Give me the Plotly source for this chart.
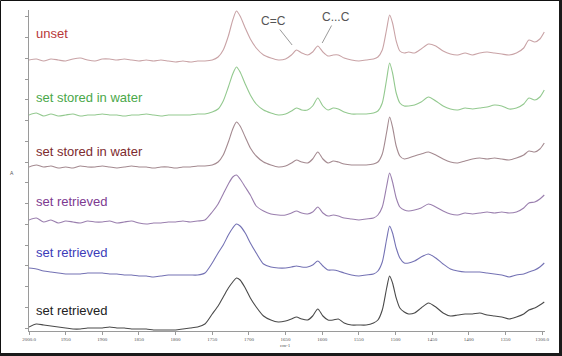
import plotly.graph_objects as go

# ---------------- data ----------------
wavenumber = [2000, 1990, 1980, 1970, 1960, 1950, 1940, 1930, 1920, 1910,
              1900, 1890, 1880, 1870, 1860, 1850, 1840, 1830, 1820, 1810,
              1800, 1790, 1780, 1770, 1760, 1750, 1742, 1735, 1728, 1722,
              1717, 1712, 1705, 1698, 1690, 1680, 1670, 1660, 1650, 1642,
              1635, 1628, 1620, 1613, 1606, 1599, 1592, 1585, 1578, 1570,
              1560, 1550, 1540, 1530, 1524, 1518, 1512, 1508, 1504, 1499,
              1494, 1488, 1482, 1474, 1465, 1455, 1445, 1435, 1425, 1415,
              1405, 1395, 1385, 1375, 1365, 1355, 1345, 1335, 1325, 1318,
              1310, 1303, 1297]

unset = [0, 1, -1, 1, 0, -1, 1, 2, 0, -1,
         1, 1, 0, 1, 0, -1, 0, -1, 0, -1,
         -2, -1, -2, -1, -1, 0, 3, 10, 24, 40,
         49, 44, 32, 21, 12, 5, 2, 0, 1, 5,
         10, 7, 5, 8, 14, 8, 4, 5, 5, 2,
         0, -1, 0, 1, 3, 10, 31, 45, 37, 19,
         9, 7, 8, 7, 11, 16, 14, 9, 6, 5,
         7, 5, 7, 8, 7, 6, 5, 7, 12, 20,
         18, 21, 28]

stored_water_1 = [0, 2, -1, 1, -1, 0, 1, -1, 0, 0,
                  1, 0, 0, -1, 0, 0, 1, 0, -1, 0,
                  0, 0, 0, 1, 1, 3, 6, 14, 28, 41,
                  48, 43, 31, 20, 11, 5, 2, 0, 1, 4,
                  7, 5, 5, 9, 17, 9, 5, 7, 6, 3,
                  1, 1, 1, 2, 4, 12, 36, 52, 42, 22,
                  12, 9, 9, 10, 13, 18, 14, 9, 6, 5,
                  7, 6, 7, 8, 10, 9, 6, 7, 11, 17,
                  15, 18, 25]

stored_water_2 = [0, 2, 0, 1, -1, 0, -1, 1, 0, 0,
                  1, 0, -1, 0, 1, 0, 0, -1, 0, 0,
                  -1, 0, 0, 1, 1, 2, 5, 12, 25, 38,
                  45, 41, 30, 19, 11, 5, 2, 0, 1, 4,
                  7, 5, 4, 8, 15, 8, 4, 6, 5, 3,
                  2, 2, 2, 3, 5, 13, 35, 50, 40, 21,
                  11, 8, 9, 11, 13, 15, 12, 8, 5, 4,
                  6, 8, 9, 8, 9, 8, 7, 9, 12, 16,
                  15, 18, 24]

retrieved_1 = [2, 4, 0, 2, -1, 1, 0, -1, 1, 0,
               0, 1, -1, 0, 1, -1, -2, -1, -1, 0,
               0, 1, 0, 1, 2, 10, 18, 28, 38, 45,
               47, 43, 35, 27, 16, 11, 8, 7, 7, 9,
               11, 9, 8, 10, 15, 9, 6, 7, 6, 4,
               3, 2, 3, 4, 7, 15, 36, 49, 40, 24,
               15, 12, 11, 12, 14, 18, 15, 11, 8, 7,
               9, 8, 9, 10, 9, 10, 9, 10, 14, 19,
               20, 23, 27]

retrieved_2 = [7, 6, 4, 3, 2, 1, 1, 1, 2, 2,
               2, 1, 1, 0, 0, -1, -1, -2, -1, 0,
               0, 0, 0, 0, 2, 12, 22, 30, 40, 47,
               51, 49, 42, 32, 22, 11, 8, 7, 7, 8,
               9, 8, 8, 10, 14, 9, 5, 5, 4, 2,
               0, -1, 0, 1, 4, 13, 36, 49, 42, 27,
               17, 12, 12, 14, 18, 21, 17, 11, 6, 4,
               3, 3, 3, 2, 1, 0, -2, 0, 1, 3,
               5, 8, 12]

retrieved_3 = [1, 4, 3, 2, 1, 0, -1, -1, 0, 0,
               0, 1, 0, 0, -1, -1, -1, -2, -2, -2,
               -2, -1, 0, 1, 4, 14, 22, 31, 40, 46,
               50, 48, 40, 30, 21, 12, 8, 6, 7, 9,
               11, 9, 8, 12, 19, 12, 8, 8, 9, 5,
               3, 3, 3, 5, 8, 18, 40, 52, 45, 30,
               20, 16, 14, 15, 20, 25, 21, 15, 12, 13,
               14, 14, 15, 13, 12, 11, 9, 11, 14, 18,
               20, 23, 26]

series = [unset, stored_water_1, stored_water_2, retrieved_1, retrieved_2, retrieved_3]
series_labels = ["unset", "set stored in water", "set stored in water",
                 "set retrieved", "set retrieved", "set retrieved"]
stack_offsets = [271, 216, 164, 109, 56, 3]          # vertical offset of each spectrum
label_levels = [297.5, 233.5, 180, 130, 79, 21]       # absorbance level of each label

tick_values = [2000, 1950, 1900, 1850, 1800, 1750, 1700, 1650, 1600,
               1550, 1500, 1450, 1400, 1350, 1300]
tick_labels = ["2000.0", "1950", "1900", "1850", "1800", "1750", "1700", "1650", "1600",
               "1550", "1500", "1450", "1400", "1350", "1300.0"]

peak_names = ["C=C", "C...C"]
peak_tips_wn = [1641, 1600]
peak_tips_abs = [286, 288]

# ---------------- styles ----------------
line_colors = ["#c9a3a6", "#93c98f", "#a48a90", "#9a7fae", "#7472b4", "#4a4a4a"]
label_colors = ["#b8383a", "#4aa84a", "#7d2b2e", "#7d3a90", "#3c3cb8", "#222222"]
FONT = "Liberation Sans, Arial, sans-serif"

W, H = 562, 356
ML, MR, MT, MB = 29, 17, 10, 25
PW, PH = W - ML - MR, H - MT - MB


def px_x(p):
    return (p - ML) / PW


def px_y(p):
    return (H - MB - p) / PH


fig = go.Figure()
for vals, off, col in zip(series, stack_offsets, line_colors):
    fig.add_trace(go.Scatter(
        x=wavenumber, y=[v + off for v in vals], mode="lines",
        line=dict(color=col, width=1.1, shape="spline", smoothing=0.7),
        hoverinfo="skip", showlegend=False))

annotations = []
for txt, lvl, col in zip(series_labels, label_levels, label_colors):
    annotations.append(dict(x=1993, y=lvl, xref="x", yref="y", text=txt,
                            showarrow=False, xanchor="left", yanchor="middle",
                            font=dict(family=FONT, size=13, color=col)))

offsets_px = [(-19, -24), (14, -26)]
for name, wn, ab, (ax, ay) in zip(peak_names, peak_tips_wn, peak_tips_abs, offsets_px):
    annotations.append(dict(x=wn, y=ab, xref="x", yref="y", text=name,
                            showarrow=True, arrowhead=0, arrowwidth=1,
                            arrowcolor="#9a9a9a", ax=ax, ay=ay,
                            font=dict(family=FONT, size=12, color="#555555")))

annotations.append(dict(x=px_x(285), y=px_y(345), xref="paper", yref="paper",
                        text="cm-1", showarrow=False, xanchor="center", yanchor="middle",
                        font=dict(family="Liberation Serif, serif", size=5, color="#555555")))
annotations.append(dict(x=px_x(12), y=px_y(173), xref="paper", yref="paper",
                        text="A", showarrow=False, xanchor="center", yanchor="middle",
                        font=dict(family="Liberation Sans, sans-serif", size=5, color="#555555")))

shapes = [
    dict(type="rect", xref="paper", yref="paper",
         x0=px_x(0.5), x1=px_x(560), y0=px_y(354), y1=px_y(0.5),
         line=dict(color="#111111", width=1), fillcolor="rgba(0,0,0,0)"),
    dict(type="rect", xref="paper", yref="paper",
         x0=px_x(559), x1=px_x(562), y0=px_y(356), y1=px_y(0),
         line=dict(width=0), fillcolor="#1a1a1a"),
    dict(type="rect", xref="paper", yref="paper",
         x0=px_x(0), x1=px_x(562), y0=px_y(356), y1=px_y(353),
         line=dict(width=0), fillcolor="#1a1a1a"),
]

fig.update_layout(
    width=W, height=H, autosize=False,
    margin=dict(l=ML, r=MR, t=MT, b=MB, pad=0),
    paper_bgcolor="white", plot_bgcolor="white",
    showlegend=False, hovermode=False,
    annotations=annotations, shapes=shapes,
    xaxis=dict(range=[2000, 1296], tickmode="array", tickvals=tick_values,
               ticktext=tick_labels, showgrid=False, zeroline=False,
               showline=True, linecolor="#9a9a9a", linewidth=1,
               ticks="outside", ticklen=3, tickcolor="#9a9a9a", tickwidth=1,
               tickfont=dict(family="Liberation Serif, serif", size=5, color="#555555")),
    yaxis=dict(range=[0, 321], tick0=3, dtick=20.75, showgrid=False, zeroline=False,
               showline=True, linecolor="#9a9a9a", linewidth=1,
               ticks="outside", ticklen=3, tickcolor="#9a9a9a", tickwidth=1,
               showticklabels=False),
)

fig.write_html("out.html", config={"displayModeBar": False},
               post_script="document.body.style.margin='0';document.body.style.overflow='hidden';")
